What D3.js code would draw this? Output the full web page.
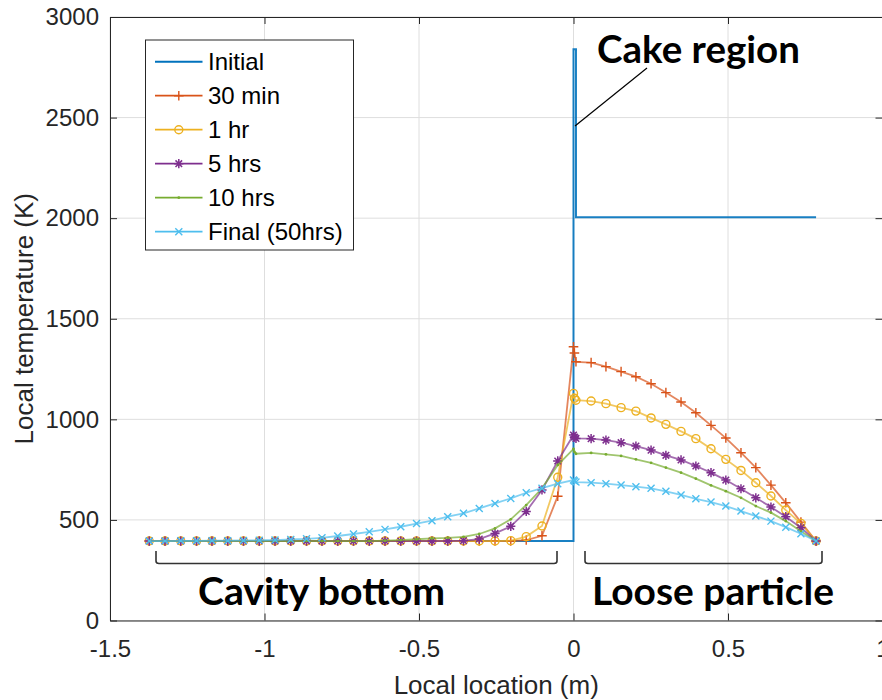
<!DOCTYPE html>
<html>
<head>
<meta charset="utf-8">
<script src="https://cdn.jsdelivr.net/npm/d3@7"></script>
<style>
  body { margin: 0; background: #fff; }
  svg { font-family: "Liberation Sans", Arial, sans-serif; }
  .note { font-family: Lato, "Open Sans", sans-serif; font-weight: 700; }
</style>
</head>
<body>
<svg id="chart" width="882" height="700"></svg>
<script>
// node locations (m): cavity bottom, cake, loose particle
const loc = [-1.373, -1.322, -1.271, -1.220, -1.170, -1.119, -1.068, -1.017, -0.966, -0.915,
  -0.864, -0.814, -0.763, -0.712, -0.661, -0.610, -0.559, -0.508, -0.458, -0.407,
  -0.356, -0.305, -0.254, -0.203, -0.153, -0.102, -0.051, 0,
  0.003,
  0.008, 0.057, 0.105, 0.154, 0.202, 0.251, 0.299, 0.348, 0.396, 0.445,
  0.493, 0.542, 0.590, 0.639, 0.687, 0.736, 0.785];

const t30min = [395, 395, 395, 395, 395, 395, 395, 395, 395, 395,
  395, 395, 395, 395, 395, 395, 395, 395, 395, 395,
  395, 395, 395, 395, 400, 421, 618, 1361,
  1330,
  1286, 1282, 1262, 1237, 1212, 1177, 1133, 1086, 1033, 970,
  907, 834, 760, 673, 585, 489, 395];

const t1hr = [395, 395, 395, 395, 395, 395, 395, 395, 395, 395,
  395, 395, 395, 395, 395, 395, 395, 395, 395, 395,
  395, 395, 395, 397, 417, 470, 712, 1129,
  1105,
  1095, 1091, 1078, 1058, 1041, 1007, 975, 940, 904, 854,
  801, 746, 685, 619, 549, 483, 395];

const t5hrs = [395, 395, 395, 395, 395, 395, 395, 395, 395, 395,
  395, 395, 395, 395, 395, 395, 395, 395, 395, 395,
  397, 405, 433, 468, 542, 649, 793, 922,
  912,
  905, 904, 897, 884, 867, 847, 821, 798, 768, 735,
  698, 655, 610, 564, 516, 461, 395];

const t10hrs = [395, 395, 395, 395, 395, 395, 395, 395, 395, 395,
  395, 395, 395, 395, 395, 397, 400, 404, 408, 411,
  416, 430, 458, 503, 574, 657, 773, 853,
  838,
  829, 833, 826, 818, 801, 784, 760, 735, 705, 672,
  643, 610, 569, 536, 494, 444, 395];

const tFinal = [395, 395, 396, 396, 397, 397, 398, 399, 400, 403,
  406, 411, 420, 430, 441, 453, 466, 482, 496, 516,
  533, 557, 582, 607, 635, 658, 680, 698,
  694,
  688, 685, 680, 673, 665, 657, 642, 624, 605, 589,
  569, 544, 519, 494, 464, 431, 395];

// initial profile (step shape)
const initLoc = [-1.373, 0, 0, 0.008, 0.008, 0.785];
const initTemp = [395, 395, 2840, 2840, 2005, 2005];

const seriesNames = ["Initial", "30 min", "1 hr", "5 hrs", "10 hrs", "Final (50hrs)"];
const seriesColors = ["#0072BD", "#D95319", "#EDB120", "#7E2F8E", "#77AC30", "#4DBEEE"];
const seriesMarkers = ["none", "plus", "circle", "star", "point", "cross"];

const xTicks = [-1.5, -1, -0.5, 0, 0.5, 1];
const yTicks = [0, 500, 1000, 1500, 2000, 2500, 3000];

const margin = {left: 110, top: 17, right: 882.5, bottom: 620.5};

const svg = d3.select("svg#chart");

const x = d3.scaleLinear().domain([-1.5, 1]).range([margin.left, margin.right]);
const y = d3.scaleLinear().domain([0, 3000]).range([margin.bottom, margin.top]);

// grid
const grid = svg.append("g").attr("class", "grid")
  .attr("stroke", "#dedede").attr("stroke-width", 1);
grid.selectAll("line.gx").data(xTicks).enter().append("line")
  .attr("x1", d => x(d)).attr("x2", d => x(d))
  .attr("y1", margin.top).attr("y2", margin.bottom);
grid.selectAll("line.gy").data(yTicks).enter().append("line")
  .attr("x1", margin.left).attr("x2", margin.right)
  .attr("y1", d => y(d)).attr("y2", d => y(d));

// axes, MATLAB style ticks pointing in
const fmt = d => String(d);
function styleAxis(g) {
  g.select(".domain").attr("stroke", "#262626");
  g.selectAll(".tick line").attr("stroke", "#262626");
  g.selectAll(".tick text").attr("fill", "#262626").style("font-size", "24px");
}
svg.append("g")
  .attr("transform", `translate(0,${margin.bottom})`)
  .call(d3.axisBottom(x).tickValues(xTicks).tickFormat(fmt).tickSize(-7).tickSizeOuter(0).tickPadding(19))
  .call(styleAxis);
svg.append("g")
  .attr("transform", `translate(0,${margin.top})`)
  .call(d3.axisTop(x).tickValues(xTicks).tickFormat("").tickSize(-7).tickSizeOuter(0))
  .call(styleAxis);
svg.append("g")
  .attr("transform", `translate(${margin.left},0)`)
  .call(d3.axisLeft(y).tickValues(yTicks).tickFormat(fmt).tickSize(-7).tickSizeOuter(0).tickPadding(11))
  .call(styleAxis);
svg.append("g")
  .attr("transform", `translate(${margin.right},0)`)
  .call(d3.axisRight(y).tickValues(yTicks).tickFormat("").tickSize(-7).tickSizeOuter(0))
  .call(styleAxis);

svg.append("text")
  .attr("x", (margin.left + margin.right) / 2).attr("y", 694)
  .attr("text-anchor", "middle").attr("fill", "#262626")
  .style("font-size", "26px")
  .text("Local location (m)");
svg.append("text")
  .attr("transform", `translate(33,${(margin.top + margin.bottom) / 2}) rotate(-90)`)
  .attr("text-anchor", "middle").attr("fill", "#262626")
  .style("font-size", "26px")
  .text("Local temperature (K)");

// markers
function marker(g, type, color) {
  if (type === "plus") {
    g.append("path").attr("d", "M-4.8,0H4.8M0,-4.8V4.8").attr("stroke", color).attr("stroke-width", 1.4).attr("fill", "none");
  } else if (type === "cross") {
    g.append("path").attr("d", "M-3.5,-3.5L3.5,3.5M-3.5,3.5L3.5,-3.5").attr("stroke", color).attr("stroke-width", 1.4).attr("fill", "none");
  } else if (type === "star") {
    g.append("path").attr("d", "M-4.6,0H4.6M0,-4.6V4.6M-3.3,-3.3L3.3,3.3M-3.3,3.3L3.3,-3.3").attr("stroke", color).attr("stroke-width", 1.5).attr("fill", "none");
  } else if (type === "circle") {
    g.append("circle").attr("r", 4).attr("stroke", color).attr("stroke-width", 1.4).attr("fill", "none");
  } else if (type === "point") {
    g.append("circle").attr("r", 1.4).attr("fill", color);
  }
}

const line = d3.line().x(d => x(d[0])).y(d => y(d[1]));
const plot = svg.append("g").attr("class", "plot");

const series = [
  initLoc.map((v, i) => [v, initTemp[i]]),
  loc.map((v, i) => [v, t30min[i]]),
  loc.map((v, i) => [v, t1hr[i]]),
  loc.map((v, i) => [v, t5hrs[i]]),
  loc.map((v, i) => [v, t10hrs[i]]),
  loc.map((v, i) => [v, tFinal[i]])
];

series.forEach((pts, k) => {
  const g = plot.append("g");
  g.append("path")
    .attr("d", line(pts))
    .attr("fill", "none")
    .attr("stroke", seriesColors[k])
    .attr("stroke-opacity", k === 0 ? 0.9 : 0.7)
    .attr("stroke-width", k === 0 ? 2 : 1.8);
  if (seriesMarkers[k] !== "none") {
    g.selectAll("g.m").data(pts).enter().append("g")
      .attr("class", "m")
      .attr("transform", d => `translate(${x(d[0])},${y(d[1])})`)
      .each(function() { marker(d3.select(this), seriesMarkers[k], seriesColors[k]); });
  }
});

// legend
const legend = svg.append("g").attr("transform", "translate(145.5,40)");
legend.append("rect").attr("width", 208).attr("height", 210)
  .attr("fill", "#fff").attr("stroke", "#262626").attr("stroke-width", 1);
seriesNames.forEach((name, k) => {
  const row = legend.append("g").attr("transform", `translate(0,${21.7 + k * 34})`);
  row.append("line").attr("x1", 9.5).attr("x2", 57)
    .attr("stroke", seriesColors[k]).attr("stroke-width", k === 0 ? 2 : 1.8);
  const m = row.append("g").attr("transform", "translate(33.3,0)");
  marker(m, seriesMarkers[k], seriesColors[k]);
  row.append("text").attr("x", 62.5).attr("dy", "0.35em")
    .attr("fill", "#000").style("font-size", "24px").text(name);
});

// annotations
const notes = svg.append("g").attr("class", "note");
notes.append("line").attr("x1", 575).attr("y1", 126).attr("x2", 647).attr("y2", 68)
  .attr("stroke", "#000").attr("stroke-width", 1.2);
notes.append("text").attr("x", 597).attr("y", 63).style("font-size", "38px")
  .attr("textLength", 203).attr("lengthAdjust", "spacingAndGlyphs").text("Cake region");
notes.append("text").attr("x", 198).attr("y", 605).style("font-size", "38px")
  .attr("textLength", 247).attr("lengthAdjust", "spacingAndGlyphs").text("Cavity bottom");
notes.append("text").attr("x", 592).attr("y", 605).style("font-size", "38px")
  .attr("textLength", 242).attr("lengthAdjust", "spacingAndGlyphs").text("Loose particle");

// brackets
const brackets = [[156, 557], [585, 822]];
notes.selectAll("path.br").data(brackets).enter().append("path")
  .attr("d", d => `M${d[0]},551 V561 Q${d[0]},563.5 ${d[0] + 3},563.5 H${d[1] - 3} Q${d[1]},563.5 ${d[1]},561 V551`)
  .attr("fill", "none").attr("stroke", "#333").attr("stroke-width", 1.6);
</script>
</body>
</html>
